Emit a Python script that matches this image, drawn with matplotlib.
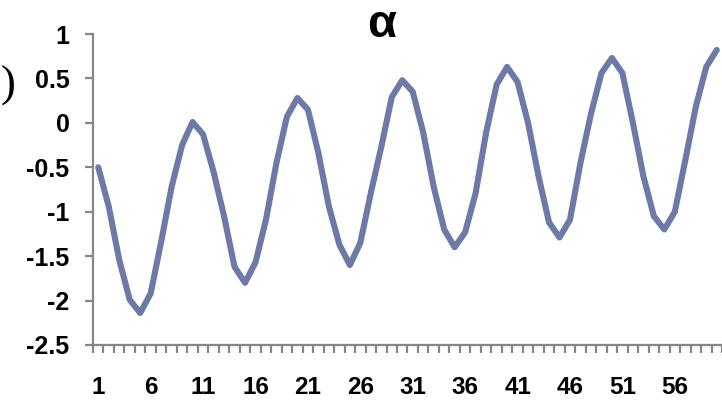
import matplotlib
matplotlib.use("Agg")
import matplotlib.pyplot as plt
import numpy as np

categories = list(range(1, 61))
alpha_values = [
    -0.50, -0.94, -1.54, -1.99, -2.14, -1.92, -1.34, -0.72, -0.25, 0.01,
    -0.13, -0.55, -1.05, -1.62, -1.80, -1.57, -1.09, -0.45, 0.07, 0.28,
    0.15, -0.34, -0.94, -1.37, -1.60, -1.35, -0.79, -0.27, 0.29, 0.48,
    0.35, -0.11, -0.72, -1.20, -1.40, -1.23, -0.79, -0.11, 0.43, 0.63,
    0.46, 0.00, -0.60, -1.12, -1.29, -1.09, -0.45, 0.10, 0.56, 0.73,
    0.56, 0.00, -0.60, -1.05, -1.20, -1.00, -0.42, 0.18, 0.63, 0.82,
]
xtick_labels = [str(c) for c in range(1, 61, 5)]
yticks = [-2.5, -2, -1.5, -1, -0.5, 0, 0.5, 1]
ytick_labels = ["-2.5", "-2", "-1.5", "-1", "-0.5", "0", "0.5", "1"]

W, H = 722, 401
fig = plt.figure(figsize=(W / 100, H / 100), dpi=100)
left_px, right_px, top_px, bottom_px = 93, 722, 34, 345
ax = fig.add_axes([left_px / W, 1 - bottom_px / H,
                   (right_px - left_px) / W, (bottom_px - top_px) / H])

step = 10.53
ax.plot(categories, alpha_values, color="#6D79A6", lw=4.4,
        solid_joinstyle="round", solid_capstyle="round", clip_on=False)

ax.set_xlim(0.5, 0.5 + (right_px - left_px) / step)
ax.set_ylim(-2.5, 1)

gray = "#878787"
for s in ["top", "right"]:
    ax.spines[s].set_visible(False)
for s in ["left", "bottom"]:
    ax.spines[s].set_color(gray)
    ax.spines[s].set_linewidth(1.6)

font = "Liberation Sans"
ax.set_yticks(yticks)
ax.set_yticklabels(ytick_labels, fontsize=18, fontweight="bold", family=font)
ax.tick_params(axis="y", direction="out", length=6, width=1.6, color=gray, pad=11)

ax.set_xticks(list(range(1, 61, 5)))
ax.set_xticklabels(xtick_labels, fontsize=17.5, fontweight="bold", family=font)
ax.set_xticks(np.arange(0.5, 61, 1), minor=True)
ax.tick_params(axis="x", which="major", length=0, pad=22)
ax.tick_params(axis="x", which="minor", direction="out", length=5.5, width=1.6, color=gray)

fig.text(382 / W, 1 - 25 / H, "α", fontsize=34, fontweight="bold", family=font,
         ha="center", va="center")
fig.text(0.5 / W, 1 - 86 / H, ")", fontsize=32, family="Liberation Serif",
         ha="left", va="center")

fig.savefig("out.png", dpi=100)
